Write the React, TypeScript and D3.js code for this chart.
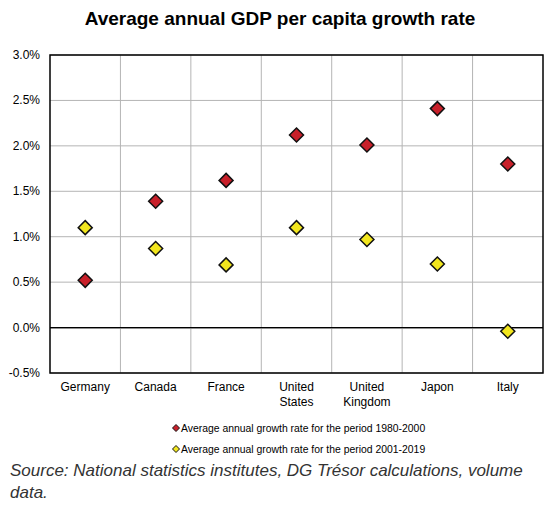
import React from "react";
import * as d3 from "d3";

const categories = ["Germany", "Canada", "France", "United States", "United Kingdom", "Japon", "Italy"];
const categoryLines = [["Germany"], ["Canada"], ["France"], ["United", "States"], ["United", "Kingdom"], ["Japon"], ["Italy"]];
const series1980 = [0.52, 1.39, 1.62, 2.12, 2.01, 2.41, 1.80];
const series2001 = [1.10, 0.87, 0.69, 1.10, 0.97, 0.70, -0.04];
const yTicks = [-0.5, 0, 0.5, 1.0, 1.5, 2.0, 2.5, 3.0];
const seriesNames = [
  "Average annual growth rate for the period 1980-2000",
  "Average annual growth rate for the period 2001-2019",
];
const colors = ["#c8202a", "#f2e61e"];

export default function App() {
  const W = 557, H = 509;
  const left = 50, right = 543, top = 55, bottom = 373;
  const x = d3.scaleBand<string>().domain(categories).range([left, right]);
  const y = d3.scaleLinear().domain([-0.5, 3.0]).range([bottom, top]);
  const font = "'Liberation Sans', Arial, sans-serif";
  const diamond = (cx: number, cy: number, r: number) =>
    `M${cx},${cy - r}L${cx + r},${cy}L${cx},${cy + r}L${cx - r},${cy}Z`;
  const bw = x.bandwidth();
  return (
    <svg width={W} height={H} style={{ position: "absolute", left: 0, top: 0, background: "#fff" }} fontFamily={font}>
      <rect x={0} y={0} width={W} height={H} fill="#fff" />
      <text x={280} y={25} textAnchor="middle" fontSize={19} fontWeight="bold" fill="#000">
        Average annual GDP per capita growth rate
      </text>
      {yTicks.map((t) => (
        <line key={"h" + t} x1={left} x2={right} y1={y(t)} y2={y(t)} stroke={t === 0 ? "#000" : "#b4b4b4"} strokeWidth={t === 0 ? 1.2 : 1} />
      ))}
      {categories.slice(1).map((c) => (
        <line key={"v" + c} x1={x(c)!} x2={x(c)!} y1={top} y2={bottom} stroke="#b4b4b4" strokeWidth={1} />
      ))}
      <line x1={left} x2={right} y1={y(0)} y2={y(0)} stroke="#000" strokeWidth={1.2} />
      <rect x={left} y={top} width={right - left} height={bottom - top} fill="none" stroke="#000" strokeWidth={1.5} />
      {yTicks.map((t) => (
        <text key={"yl" + t} x={40} y={y(t) + 4} textAnchor="end" fontSize={12} fill="#000">
          {t.toFixed(1) + "%"}
        </text>
      ))}
      {categories.map((c, i) => (
        <text key={"xl" + c} x={x(c)! + bw / 2} y={391} textAnchor="middle" fontSize={12} fill="#000">
          {categoryLines[i].map((l, j) => (
            <tspan key={j} x={x(c)! + bw / 2} dy={j === 0 ? 0 : 15}>{l}</tspan>
          ))}
        </text>
      ))}
      {[series2001, series1980].map((s, si) =>
        s.map((v, i) => (
          <path key={si + "-" + i} d={diamond(x(categories[i])! + bw / 2, y(v), 7)} fill={si === 0 ? colors[1] : colors[0]} stroke="#111" strokeWidth={1.5} />
        ))
      )}
      {seriesNames.map((n, i) => (
        <g key={n}>
          <path d={diamond(176, 428 + i * 21, 3.5)} fill={colors[i]} stroke="#111" strokeWidth={1} />
          <text x={181} y={431.5 + i * 21} fontSize={10.4} fill="#000">{n}</text>
        </g>
      ))}
      <text x={10} y={476} fontSize={17} fontStyle="italic" fill="#333">
        <tspan x={10}>Source: National statistics institutes, DG Trésor calculations, volume</tspan>
        <tspan x={10} dy={22}>data.</tspan>
      </text>
    </svg>
  );
}
